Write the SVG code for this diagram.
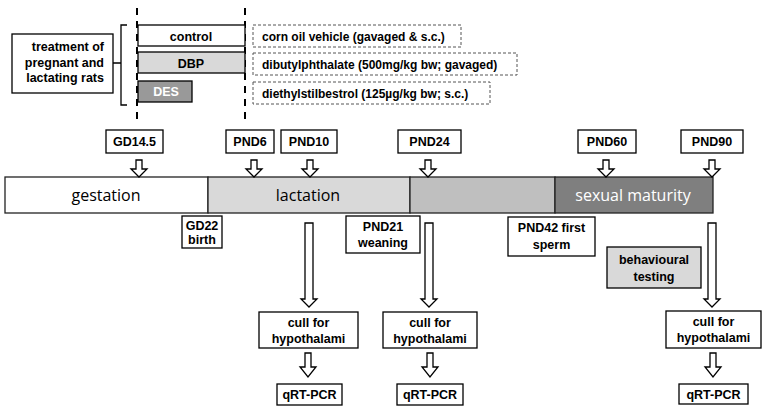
<svg xmlns="http://www.w3.org/2000/svg" width="766" height="412" viewBox="0 0 766 412">
<defs>
<style>
.bx{fill:#fff;stroke:#000;stroke-width:1.3}
.db{fill:#fff;stroke:#555;stroke-width:1;stroke-dasharray:3,2}
.t{font-family:"Liberation Sans",Arial,sans-serif;font-weight:bold;font-size:12.5px;fill:#000}
.d{font-size:12px}
.m{text-anchor:middle}
.tl{font-family:"Open Sans","Noto Sans",sans-serif;font-size:16px;text-anchor:middle}
.ar{fill:#fff;stroke:#000;stroke-width:1.3;stroke-linejoin:miter}
.vd{stroke:#000;stroke-width:2;stroke-dasharray:7,6;fill:none}
</style>
<polygon id="sa" points="-3,0 3,0 3,9 8,9 0,17 -8,9 -3,9"/>
<polygon id="la" points="-4,0 4,0 4,76 8,76 0,84 -8,76 -4,76"/>
<polygon id="ba" points="-3,0 3,0 3,14 8,14 0,24 -8,14 -3,14"/>
</defs>
<rect width="766" height="412" fill="#fff"/>

<g id="treatment">
<line class="vd" x1="137" y1="8" x2="137" y2="120"/>
<line class="vd" x1="245" y1="8" x2="245" y2="120"/>
<path d="M127,25 H121 V105 H127 M121,63 H113" fill="none" stroke="#000" stroke-width="1.3"/>
<rect class="bx" x="12" y="34" width="101" height="59"/>
<text class="t" x="104" y="51" text-anchor="end" font-size="12.8">treatment of</text>
<text class="t" x="104" y="67" text-anchor="end" font-size="12.8">pregnant and</text>
<text class="t" x="104" y="82" text-anchor="end" font-size="12.8">lactating rats</text>
</g>
<g id="control">
<rect class="bx" x="138" y="25" width="107" height="21"/>
<text class="t m" x="191" y="40.5" font-size="13.5">control</text>
<rect class="db" x="253" y="25" width="208" height="22"/>
<text class="t d" x="262" y="40.5">corn oil vehicle (gavaged &amp; s.c.)</text>
</g>
<g id="dbp">
<rect class="bx" x="138" y="52" width="107" height="21" style="fill:#d9d9d9"/>
<text class="t m" x="191" y="67.5" font-size="13.5">DBP</text>
<rect class="db" x="253" y="53" width="264" height="22"/>
<text class="t d" x="262" y="68.5">dibutylphthalate (500mg/kg bw; gavaged)</text>
</g>
<g id="des">
<rect class="bx" x="138" y="81" width="54" height="21" style="fill:#999"/>
<text class="t m" x="166" y="96" font-size="11.5" style="fill:#fff">DES</text>
<rect class="db" x="253" y="82" width="237" height="22"/>
<text class="t d" x="262" y="97.5">diethylstilbestrol (125µg/kg bw; s.c.)</text>
</g>

<g id="timeline">
<rect x="5" y="177" width="203" height="36" fill="#fff" stroke="#222" stroke-width="1.3"/>
<rect x="208" y="177" width="202" height="36" fill="#d9d9d9" stroke="#222" stroke-width="1.3"/>
<rect x="410" y="177" width="145" height="36" fill="#bfbfbf" stroke="#222" stroke-width="1.3"/>
<rect x="555" y="177" width="158" height="36" fill="#7f7f7f" stroke="#222" stroke-width="1.3"/>
<text class="tl" x="106" y="201" fill="#000">gestation</text>
<text class="tl" x="308" y="201" fill="#000">lactation</text>
<text class="tl" x="633" y="201" fill="#fff">sexual maturity</text>
</g>

<g id="gd145"><rect class="bx" x="106" y="130" width="57" height="23"/><text class="t m" x="134.5" y="146">GD14.5</text></g>
<g id="pnd6"><rect class="bx" x="226" y="130" width="48" height="23"/><text class="t m" x="250" y="146">PND6</text></g>
<g id="pnd10"><rect class="bx" x="281" y="130" width="56" height="23"/><text class="t m" x="309" y="146">PND10</text></g>
<g id="pnd24"><rect class="bx" x="398" y="130" width="63" height="23"/><text class="t m" x="429.5" y="146">PND24</text></g>
<g id="pnd60"><rect class="bx" x="578" y="130" width="58" height="23"/><text class="t m" x="607" y="146">PND60</text></g>
<g id="pnd90"><rect class="bx" x="681" y="130" width="62" height="23"/><text class="t m" x="712" y="146">PND90</text></g>

<g id="gd22"><rect class="bx" x="182" y="216" width="40" height="32"/><text class="t m" x="202" y="230" font-size="12">GD22</text><text class="t m" x="202" y="244" font-size="12">birth</text></g>
<g id="pnd21"><rect class="bx" x="346" y="216" width="74" height="37"/><text class="t m" x="383" y="231">PND21</text><text class="t m" x="383" y="247">weaning</text></g>
<g id="pnd42"><rect class="bx" x="508" y="217" width="87" height="39"/><text class="t m" x="551.5" y="232">PND42 first</text><text class="t m" x="551.5" y="249">sperm</text></g>
<g id="behav"><rect class="bx" x="607" y="247" width="94" height="41" style="fill:#d9d9d9"/><text class="t m" x="654" y="264" font-size="13.5">behavioural</text><text class="t m" x="654" y="281" font-size="13.5">testing</text></g>

<g id="cull1"><rect class="bx" x="259" y="312" width="99" height="36"/><text class="t m" x="308.5" y="327" font-size="13">cull for</text><text class="t m" x="308.5" y="343" font-size="13">hypothalami</text></g>
<g id="cull2"><rect class="bx" x="383" y="312" width="94" height="36"/><text class="t m" x="430" y="327" font-size="13">cull for</text><text class="t m" x="430" y="343" font-size="13">hypothalami</text></g>
<g id="cull3"><rect class="bx" x="666" y="311" width="95" height="37"/><text class="t m" x="713.5" y="326" font-size="13">cull for</text><text class="t m" x="713.5" y="342" font-size="13">hypothalami</text></g>

<g id="qpcr1"><rect class="bx" x="277" y="384" width="65" height="21"/><text class="t m" x="309.5" y="399">qRT-PCR</text></g>
<g id="qpcr2"><rect class="bx" x="397" y="384" width="66" height="21"/><text class="t m" x="430" y="399">qRT-PCR</text></g>
<g id="qpcr3"><rect class="bx" x="679" y="384" width="69" height="20"/><text class="t m" x="713.5" y="398.5">qRT-PCR</text></g>

<g id="connectors" class="ar">
<use href="#sa" x="139" y="160"/>
<use href="#sa" x="254" y="160"/>
<use href="#sa" x="310" y="160"/>
<use href="#sa" x="428" y="160"/>
<use href="#sa" x="606" y="160"/>
<use href="#sa" x="712" y="160"/>
<use href="#la" x="309" y="223"/>
<use href="#la" x="429" y="223"/>
<use href="#la" x="712" y="223"/>
<use href="#ba" x="308" y="353"/>
<use href="#ba" x="430" y="353"/>
<use href="#ba" x="713" y="353"/>
</g>
</svg>
